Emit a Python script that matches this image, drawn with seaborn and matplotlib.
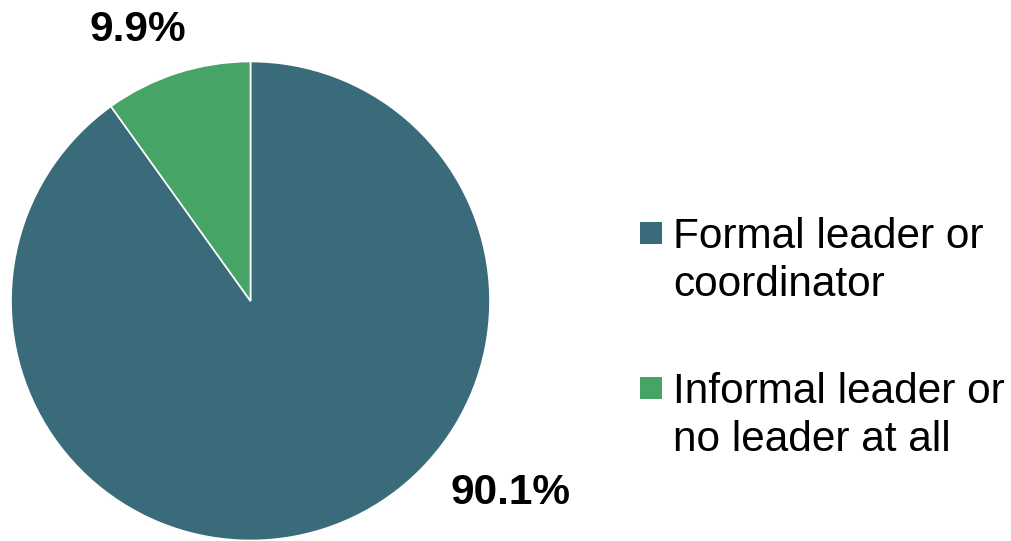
import matplotlib.pyplot as plt
import seaborn as sns
from matplotlib.patches import Rectangle

categories = ["Formal leader or\ncoordinator", "Informal leader or\nno leader at all"]
shares = [90.1, 9.9]
pct_labels = ["90.1%", "9.9%"]
colors = ["#3a6b7a", "#47a467"]

sns.set_theme(style="white")
plt.rcParams["font.family"] = ["Liberation Sans", "DejaVu Sans"]

W, H = 1012, 541
fig = plt.figure(figsize=(W / 100, H / 100), dpi=100)
cx, cy, r = 250.5, 301, 239.5
ax = fig.add_axes([(cx - r) / W, (H - cy - r) / H, 2 * r / W, 2 * r / H])

wedges, _ = ax.pie(
    shares,
    colors=colors,
    startangle=90,
    counterclock=False,
    radius=1,
    wedgeprops=dict(edgecolor="white", linewidth=1.2),
)
ax.set_xlim(-1, 1)
ax.set_ylim(-1, 1)
ax.set_aspect("equal")

# percentage labels, placed like the original
label_pos = [(1.085, -0.80), (-0.47, 1.13)]
for (x, y), txt in zip(label_pos, pct_labels):
    ax.text(x, y, txt, ha="center", va="center", fontsize=30.5,
            fontweight="bold", color="black", clip_on=False)

# legend drawn by hand so the square sits by the first line
first_base = [247, 402]
line_gap = 49
for base, lab, col in zip(first_base, categories, colors):
    fig.add_artist(Rectangle((640 / W, 1 - (base - 3) / H), 22 / W, 22 / H,
                             transform=fig.transFigure, facecolor=col,
                             edgecolor="none"))
    # va="baseline" pins the last line, so shift by one line
    fig.text(673 / W, 1 - (base + line_gap) / H, lab, ha="left",
             va="baseline", fontsize=30.5, color="black", linespacing=1.25)

fig.savefig("out.png", dpi=100)
plt.close(fig)
